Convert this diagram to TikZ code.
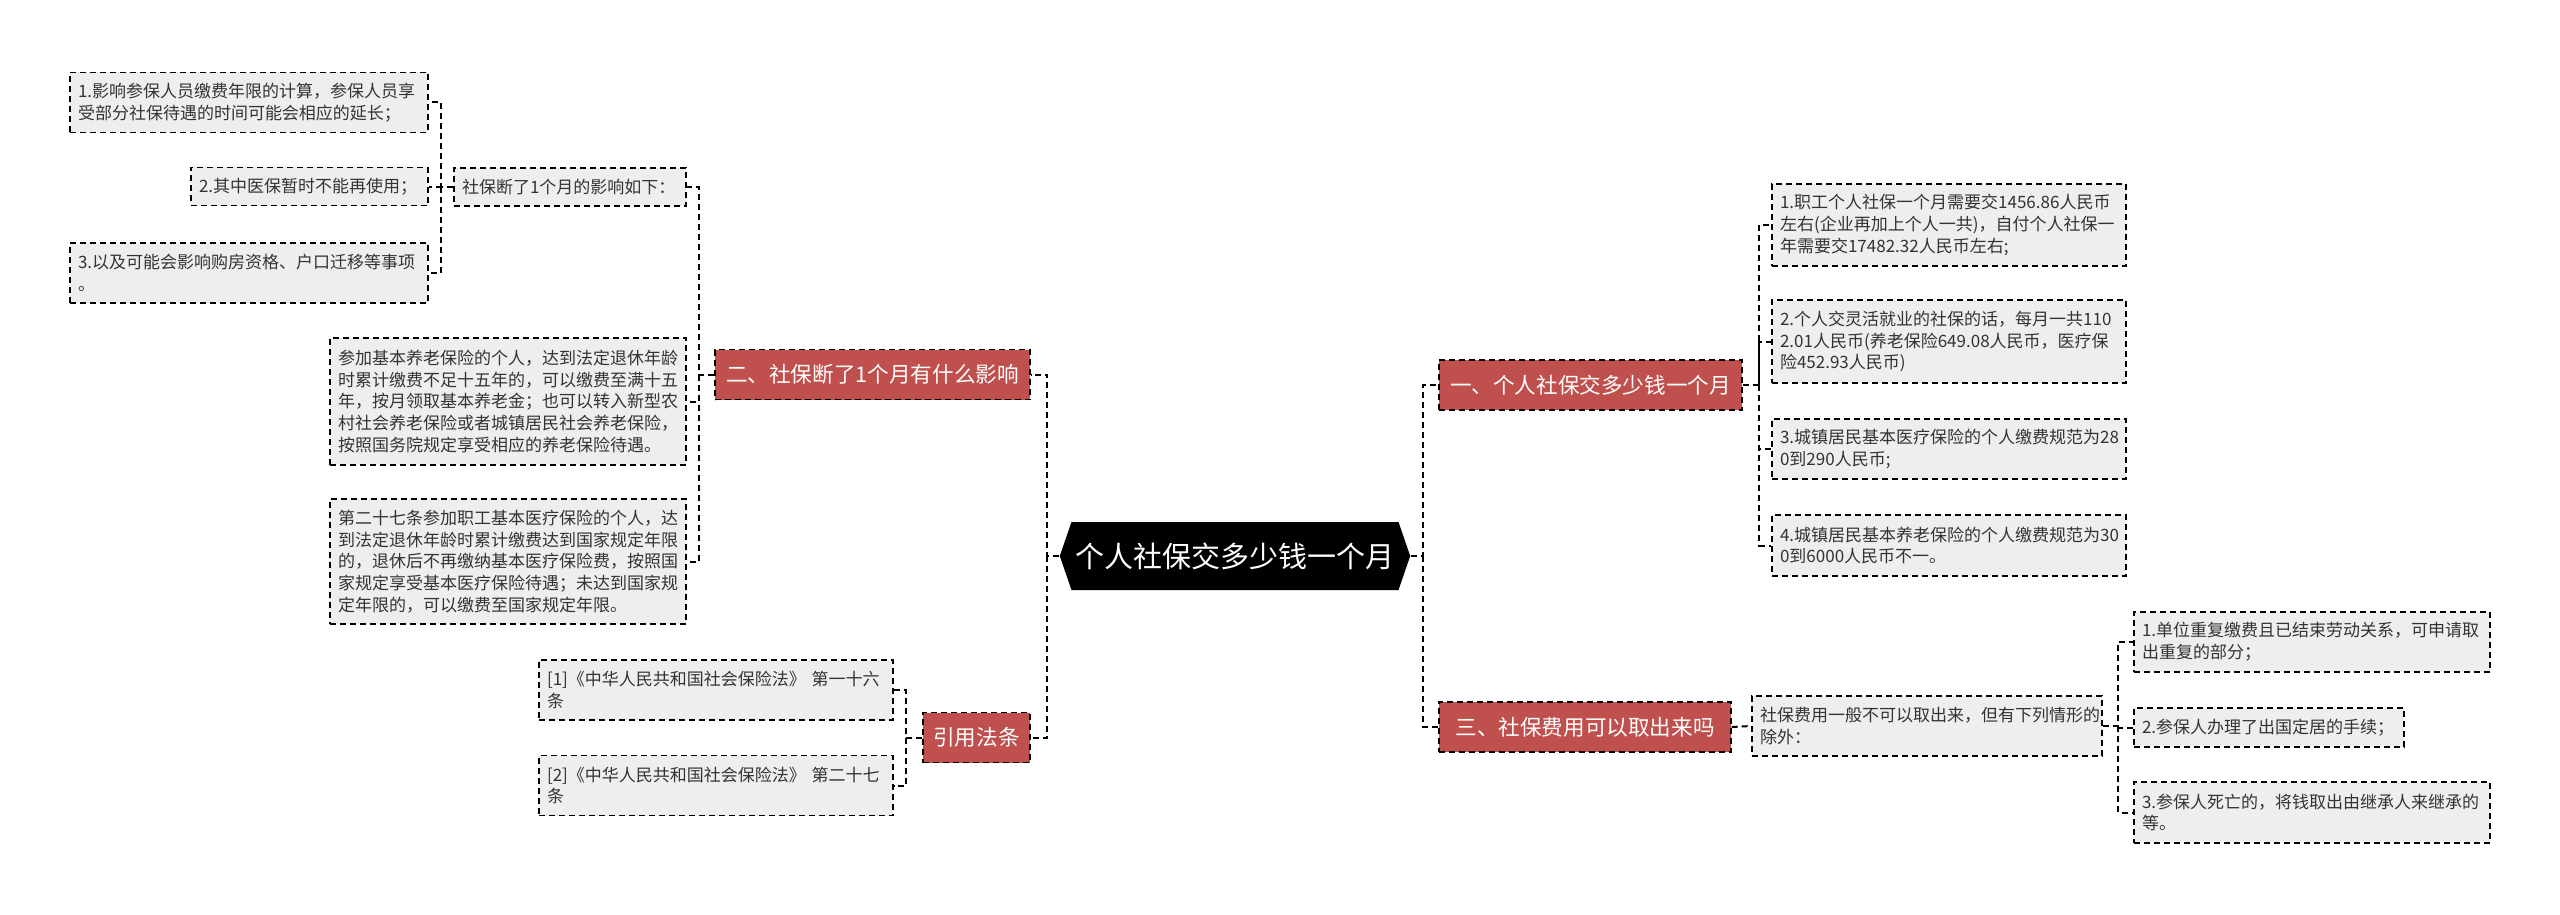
\documentclass[tikz,border=0pt]{standalone}
\usepackage{fontspec}
\newfontfamily\zhfont{Noto Sans CJK SC}
\usepackage{tikz}
\usetikzlibrary{positioning,shapes.symbols}
\definecolor{catred}{HTML}{C0504D}
\definecolor{leafgray}{HTML}{EEEEEE}
\definecolor{leaftext}{HTML}{333333}

\begin{document}
\begin{tikzpicture}[
    x=0.5pt, y=-0.5pt,
    root/.style={signal, signal to=west and east, signal pointer angle=142, fill=black, text=white, font=\zhfont\fontsize{14.5}{17}\selectfont, minimum width=173pt, minimum height=34pt, inner sep=2pt},
    cat/.style={rectangle, draw, dash pattern=on 3pt off 2pt, fill=catred, text=white, font=\zhfont\fontsize{10.8}{13}\selectfont, minimum height=25pt, line width=0.7pt},
    leaf/.style={rectangle, draw, dash pattern=on 3pt off 2pt, fill=leafgray, text=leaftext, text width=#1, align=left, inner xsep=4pt, font=\zhfont\fontsize{8.5}{10.85}\selectfont, line width=0.7pt},
    link/.style={draw, dash pattern=on 3pt off 2pt, line width=1pt},
]
\useasboundingbox (0,0) rectangle (2560,915);

% centre
\node[root] (root) at (1235,556) {个人社保交多少钱一个月};

% main branches
\node[cat, minimum width=157.5pt] (effect) at (872.5,374.5) {二、社保断了1个月有什么影响};
\node[cat, minimum width=53.5pt] (cite) at (976.5,737.5) {引用法条};
\node[cat, minimum width=151.5pt] (cost) at (1590.5,385) {一、个人社保交多少钱一个月};
\node[cat, minimum width=146pt] (withdraw) at (1585,727) {三、社保费用可以取出来吗};

% left side
\node[leaf=108pt, minimum height=19pt] (list) at (570,187) {社保断了1个月的影响如下：};
\node[leaf=171pt, minimum height=30pt] (impact1) at (249,102.5) {1.影响参保人员缴费年限的计算，参保人员享\\受部分社保待遇的时间可能会相应的延长；};
\node[leaf=110.5pt, minimum height=19pt] (impact2) at (309.5,186.5) {2.其中医保暂时不能再使用；};
\node[leaf=171pt, minimum height=30pt] (impact3) at (249,273) {3.以及可能会影响购房资格、户口迁移等事项\\。};
\node[leaf=170pt, minimum height=63.5pt] (pension) at (508,401.5) {参加基本养老保险的个人，达到法定退休年龄\\时累计缴费不足十五年的，可以缴费至满十五\\年，按月领取基本养老金；也可以转入新型农\\村社会养老保险或者城镇居民社会养老保险，\\按照国务院规定享受相应的养老保险待遇。};
\node[leaf=170pt, minimum height=62.5pt] (medical) at (508,561.5) {第二十七条参加职工基本医疗保险的个人，达\\到法定退休年龄时累计缴费达到国家规定年限\\的，退休后不再缴纳基本医疗保险费，按照国\\家规定享受基本医疗保险待遇；未达到国家规\\定年限的，可以缴费至国家规定年限。};
\node[leaf=169pt, minimum height=30pt] (law1) at (716,690) {[1]《中华人民共和国社会保险法》 第一十六\\条};
\node[leaf=169pt, minimum height=30pt] (law2) at (716,785.5) {[2]《中华人民共和国社会保险法》 第二十七\\条};

% right side
\node[leaf=169pt, minimum height=41pt] (fee1) at (1949,225) {1.职工个人社保一个月需要交1456.86人民币\\左右(企业再加上个人一共)，自付个人社保一\\年需要交17482.32人民币左右;};
\node[leaf=169pt, minimum height=41.5pt] (fee2) at (1949,341.5) {2.个人交灵活就业的社保的话，每月一共110\\2.01人民币(养老保险649.08人民币，医疗保\\险452.93人民币)};
\node[leaf=169pt, minimum height=30pt] (fee3) at (1949,449) {3.城镇居民基本医疗保险的个人缴费规范为28\\0到290人民币;};
\node[leaf=169pt, minimum height=30.5pt] (fee4) at (1949,545.5) {4.城镇居民基本养老保险的个人缴费规范为30\\0到6000人民币不一。};
\node[leaf=167pt, minimum height=30pt] (rule) at (1927,726) {社保费用一般不可以取出来，但有下列情形的\\除外：};
\node[leaf=170pt, minimum height=30pt] (case1) at (2312,642) {1.单位重复缴费且已结束劳动关系，可申请取\\出重复的部分；};
\node[leaf=127pt, minimum height=19.5pt] (case2) at (2269,727.5) {2.参保人办理了出国定居的手续；};
\node[leaf=170pt, minimum height=30.5pt] (case3) at (2312,812.5) {3.参保人死亡的，将钱取出由继承人来继承的\\等。};

% connectors
\coordinate (lbus) at (1047,556);
\coordinate (rbus) at (1423,556);
\coordinate (ebus) at (699,374.5);
\coordinate (sbus) at (441,187);
\coordinate (cbus) at (906,737.5);
\coordinate (fbus) at (1759,385);
\coordinate (wbus) at (2118,726);
\draw[link] (root.west) -- (lbus) |- (effect.east);
\draw[link] (lbus) |- (cite.east);
\draw[link] (root.east) -- (rbus) |- (cost.west);
\draw[link] (rbus) |- (withdraw.west);
\draw[link] (effect.west) -- (ebus) |- (list.east);
\draw[link] (ebus) |- (pension.east);
\draw[link] (ebus) |- (medical.east);
\draw[link] (list.west) -- (sbus) |- (impact1.east);
\draw[link] (sbus) |- (impact2.east);
\draw[link] (sbus) |- (impact3.east);
\draw[link] (cite.west) -- (cbus) |- (law1.east);
\draw[link] (cbus) |- (law2.east);
\draw[link] (cost.east) -- (fbus) |- (fee1.west);
\draw[link] (fbus) |- (fee2.west);
\draw[link] (fbus) |- (fee3.west);
\draw[link] (fbus) |- (fee4.west);
\draw[link] (withdraw.east) -- (rule.west);
\draw[link] (rule.east) -- (wbus) |- (case1.west);
\draw[link] (wbus) |- (case2.west);
\draw[link] (wbus) |- (case3.west);
\end{tikzpicture}
\end{document}
